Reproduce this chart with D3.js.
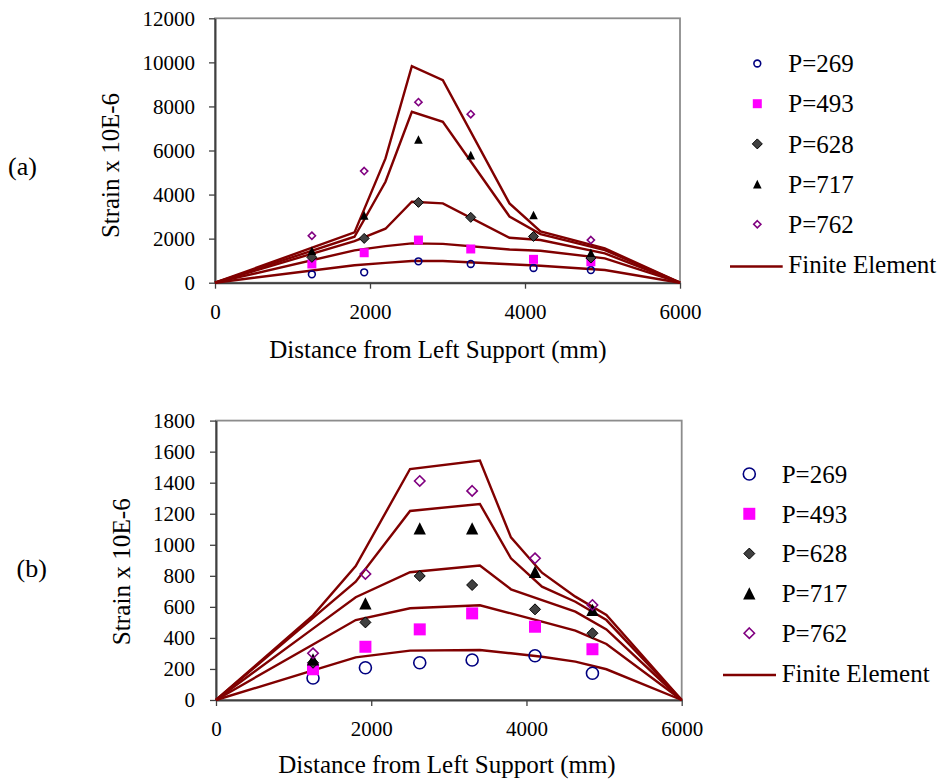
<!DOCTYPE html>
<html><head><meta charset="utf-8">
<script src="https://cdn.jsdelivr.net/npm/d3@7"></script>
<style>body{margin:0;background:#fff}</style>
</head><body>
<script>
// ---------------- DATA ----------------
const seriesNames = ["P=269", "P=493", "P=628", "P=717", "P=762"];
const feName = "Finite Element";
const xTickValues = [0, 2000, 4000, 6000];
const xAxisTitle = "Distance from Left Support (mm)";
const yAxisTitle = "Strain x 10E-6";

// experimental measurement locations (mm)
const xExp = [1250, 1925, 2625, 3300, 4110, 4850];

// ---- panel (a) ----
const yTicksA = [0, 2000, 4000, 6000, 8000, 10000, 12000];
const expA269 = [380, 470, 970, 850, 667, 575];
const expA493 = [850, 1360, 1935, 1530, 1060, 950];
const expA628 = [1150, 2010, 3645, 2965, 2100, 1120];
const expA717 = [1450, 3055, 6500, 5790, 3070, 1360];
const expA762 = [2130, 5065, 8195, 7650, null, 1935];
const xFeA = [0, 1800, 2200, 2540, 2940, 3800, 4200, 5030, 6000];
const feA269 = [0, 790, 900, 985, 985, 840, 772, 576, 0];
const feA493 = [0, 1470, 1660, 1785, 1760, 1510, 1452, 1105, 0];
const feA628 = [0, 1890, 2450, 3675, 3600, 2040, 1936, 1330, 0];
const feA717 = [0, 2085, 4580, 7755, 7300, 3006, 2204, 1482, 0];
const feA762 = [0, 2285, 5640, 9825, 9190, 3600, 2324, 1557, 0];

// ---- panel (b) ----
const yTicksB = [0, 200, 400, 600, 800, 1000, 1200, 1400, 1600, 1800];
const expB269 = [142, 208, 240, 258, 285, 172];
const expB493 = [198, 343, 455, 558, 472, 327];
const expB628 = [240, 500, 799, 741, 584, 430];
const expB717 = [262, 623, 1106, 1106, 825, 580];
const expB762 = [301, 812, 1411, 1347, 913, 612];
const xFeB = [0, 1250, 1800, 2500, 3400, 3800, 4200, 4630, 5030, 6000];
const feB269 = [0, 191, 275, 318, 322, 301, 279, 247, 198, 0];
const feB493 = [0, 358, 515, 591, 610, 558, 505, 447, 361, 0];
const feB628 = [0, 460, 662, 823, 866, 713, 644, 569, 455, 0];
const feB717 = [0, 529, 762, 1218, 1263, 913, 730, 633, 515, 0];
const feB762 = [0, 545, 863, 1488, 1542, 1048, 820, 666, 548, 0];

// ---------------- STYLE ----------------
const FONT = "'Liberation Serif', 'Times New Roman', serif";
const FE_COLOR = "#800000";
const markerStyles = [
  {shape: "circle",   fill: "none",    stroke: "#000080", sw: 1.6},
  {shape: "square",   fill: "#ff00ff", stroke: "none",    sw: 0},
  {shape: "diamond",  fill: "#404040", stroke: "#000",    sw: 1},
  {shape: "triangle", fill: "#000",    stroke: "none",    sw: 0},
  {shape: "diamond",  fill: "none",    stroke: "#800080", sw: 1.6}
];

const svg = d3.select("body").append("svg")
  .attr("width", 941).attr("height", 782)
  .style("background", "#fff");

function drawMarker(g, style, size, cx, cy) {
  if (style.shape === "circle") {
    return g.append("circle").attr("cx", cx).attr("cy", cy).attr("r", size)
      .attr("fill", style.fill).attr("stroke", style.stroke).attr("stroke-width", style.sw);
  }
  let d;
  if (style.shape === "square") {
    const h = size / 2;
    d = `M${cx - h},${cy - h}h${size}v${size}h${-size}Z`;
  } else if (style.shape === "diamond") {
    d = `M${cx},${cy - size}L${cx + size},${cy}L${cx},${cy + size}L${cx - size},${cy}Z`;
  } else {
    const h = size / 2;
    d = `M${cx},${cy - h}L${cx + h},${cy + h}L${cx - h},${cy + h}Z`;
  }
  return g.append("path").attr("d", d).attr("fill", style.fill)
    .attr("stroke", style.stroke).attr("stroke-width", style.sw);
}

function panel(p) {
  const g = svg.append("g");
  const x = d3.scaleLinear().domain([0, 6000]).range([p.left, p.right]);
  const y = d3.scaleLinear().domain([0, p.yMax]).range([p.bottom, p.top]);

  // plot area border
  g.append("rect").attr("x", p.left).attr("y", p.top)
    .attr("width", p.right - p.left).attr("height", p.bottom - p.top)
    .attr("fill", "none").attr("stroke", "#8c8c8c").attr("stroke-width", 1.8);

  // axes
  const ya = g.append("g").attr("transform", `translate(${p.left},0)`)
    .call(d3.axisLeft(y).tickValues(p.yTicks).tickSize(6).tickSizeOuter(0)
      .tickPadding(p.yPad).tickFormat(d3.format("d")));
  const xa = g.append("g").attr("transform", `translate(0,${p.bottom})`)
    .call(d3.axisBottom(x).tickValues(xTickValues).tickSize(6).tickSizeOuter(0)
      .tickPadding(p.xPad).tickFormat(d3.format("d")));
  [ya, xa].forEach(a => {
    a.select(".domain").attr("stroke", "#404040").attr("stroke-width", 2);
    a.selectAll(".tick line").attr("stroke", "#404040").attr("stroke-width", 1.3);
    a.selectAll(".tick text").attr("fill", "#000")
      .style("font-family", FONT).style("font-size", "21px");
  });

  // FE lines
  const line = d3.line().x((d, i) => x(p.feX[i])).y(d => y(d));
  p.fe.forEach(s => {
    g.append("path").attr("d", line(s)).attr("fill", "none")
      .attr("stroke", FE_COLOR).attr("stroke-width", 2.4);
  });

  // experimental markers
  p.exp.forEach((s, k) => {
    s.forEach((v, i) => {
      if (v === null) return;
      drawMarker(g, markerStyles[k], p.sizes[k], x(xExp[i]), y(v));
    });
  });

  // axis titles
  g.append("text").attr("x", p.xTitleX).attr("y", p.xTitleY)
    .attr("text-anchor", "middle").style("font-family", FONT).style("font-size", "25px")
    .text(xAxisTitle);
  g.append("text").attr("transform", `translate(${p.yTitleX},${p.yTitleY}) rotate(-90)`)
    .attr("text-anchor", "middle").style("font-family", FONT).style("font-size", "25px")
    .attr("textLength", p.yTitleLen).attr("lengthAdjust", "spacingAndGlyphs")
    .text(yAxisTitle);

  // panel label
  g.append("text").attr("x", p.labelX).attr("y", p.labelY)
    .style("font-family", FONT).style("font-size", "26px").text(p.label);

  // legend
  seriesNames.forEach((name, k) => {
    const cy = p.legY0 + k * p.legStep;
    drawMarker(g, markerStyles[k], p.sizes[k], p.legMarkX, cy);
    g.append("text").attr("x", p.legTextX).attr("y", cy).attr("dy", "0.35em")
      .style("font-family", FONT).style("font-size", "25px").text(name);
  });
  const fy = p.legY0 + 5 * p.legStep;
  g.append("line").attr("x1", p.legLineX1).attr("x2", p.legLineX2)
    .attr("y1", fy + 2).attr("y2", fy + 2)
    .attr("stroke", FE_COLOR).attr("stroke-width", 2.4);
  g.append("text").attr("x", p.legTextX).attr("y", fy).attr("dy", "0.35em")
    .style("font-family", FONT).style("font-size", "25px").text(feName);
}

panel({
  left: 215, right: 680, top: 18.3, bottom: 282.7, yMax: 12000, yTicks: yTicksA,
  yPad: 14, xPad: 15.5,
  feX: xFeA, fe: [feA269, feA493, feA628, feA717, feA762],
  exp: [expA269, expA493, expA628, expA717, expA762],
  sizes: [3.4, 9, 5, 8.6, 3.6],
  xTitleX: 438, xTitleY: 358, yTitleX: 119, yTitleY: 165.5, yTitleLen: 145,
  label: "(a)", labelX: 8, labelY: 175,
  legY0: 63.5, legStep: 40.2, legMarkX: 757.3, legTextX: 788.3, legLineX1: 730, legLineX2: 782.7
});

panel({
  left: 216, right: 681.7, top: 420.6, bottom: 700, yMax: 1800, yTicks: yTicksB,
  yPad: 15, xPad: 15,
  feX: xFeB, fe: [feB269, feB493, feB628, feB717, feB762],
  exp: [expB269, expB493, expB628, expB717, expB762],
  sizes: [6, 12, 5.5, 12.3, 5.2],
  xTitleX: 447, xTitleY: 773, yTitleX: 130, yTitleY: 571.7, yTitleLen: 147,
  label: "(b)", labelX: 16.5, labelY: 577,
  legY0: 474, legStep: 39.8, legMarkX: 749.3, legTextX: 781.7, legLineX1: 723, legLineX2: 776
});
</script>
</body></html>
